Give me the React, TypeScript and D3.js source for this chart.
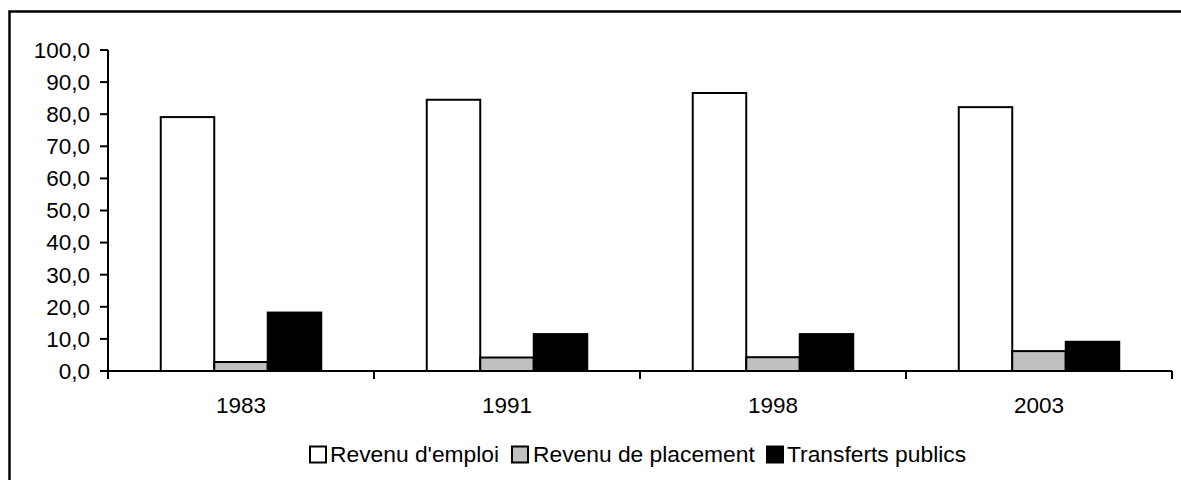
import React from "react";
import * as d3 from "d3";

const categories = ["1983", "1991", "1998", "2003"];
const seriesNames = ["Revenu d'emploi", "Revenu de placement", "Transferts publics"];
const revenuEmploi = [79.1, 84.5, 86.6, 82.2];
const revenuPlacement = [2.8, 4.2, 4.3, 6.2];
const transfertsPublics = [18.2, 11.5, 11.5, 9.1];
const yTicks = [0, 10, 20, 30, 40, 50, 60, 70, 80, 90, 100];

const seriesValues = [revenuEmploi, revenuPlacement, transfertsPublics];
const fills = ["#ffffff", "#c0c0c0", "#000000"];

const W = 1181;
const H = 480;
const FONT = "Liberation Sans, Arial, sans-serif";

export default function App() {
  const x = d3.scaleBand<string>().domain(categories).range([108, 1172]).padding(0);
  const inner = d3
    .scaleBand<string>()
    .domain(seriesNames)
    .range([0, x.bandwidth()])
    .paddingInner(0)
    .paddingOuter(0.986);
  const y = d3.scaleLinear().domain([0, 100]).range([371, 50]);
  const fmt = (v: number) => d3.format(".1f")(v).replace(".", ",");
  const [x0, x1] = x.range();

  const legendItems = [
    { box: 310, text: 330 },
    { box: 512, text: 533 },
    { box: 767, text: 787 },
  ];

  return (
    <svg
      width={W}
      height={H}
      style={{ position: "absolute", left: 0, top: 0, background: "#fff" }}
      fontFamily={FONT}
    >
      <rect x={0} y={0} width={W} height={H} fill="#fff" />
      <rect x={9.5} y={11.5} width={W + 20} height={H + 20} fill="none" stroke="#000" strokeWidth={2.5} />

      {/* bars */}
      {categories.map((c, ci) => (
        <g key={c} transform={`translate(${x(c)},0)`}>
          {seriesNames.map((s, si) => {
            const v = seriesValues[si][ci];
            return (
              <rect
                key={s}
                x={inner(s)}
                y={y(v)}
                width={inner.bandwidth()}
                height={y(0) - y(v)}
                fill={fills[si]}
                stroke="#000"
                strokeWidth={2}
              />
            );
          })}
        </g>
      ))}

      {/* y axis */}
      <line x1={x0} x2={x0} y1={y(100)} y2={y(0)} stroke="#000" strokeWidth={2} />
      {yTicks.map((t) => (
        <g key={t}>
          <line x1={x0 - 8} x2={x0} y1={y(t)} y2={y(t)} stroke="#000" strokeWidth={2} />
          <text
            x={x0 - 18}
            y={y(t)}
            dy="0.35em"
            textAnchor="end"
            fontSize={22.5}
            fill="#000"
          >
            {fmt(t)}
          </text>
        </g>
      ))}

      {/* x axis */}
      <line x1={x0} x2={x1} y1={y(0)} y2={y(0)} stroke="#000" strokeWidth={2} />
      {[...categories.map((c) => x(c) as number), x1].map((p, i) => (
        <line key={i} x1={p} x2={p} y1={y(0)} y2={y(0) + 8} stroke="#000" strokeWidth={2} />
      ))}
      {categories.map((c) => (
        <text
          key={c}
          x={(x(c) as number) + x.bandwidth() / 2}
          y={405}
          dy="0.35em"
          textAnchor="middle"
          fontSize={22.5}
          fill="#000"
        >
          {c}
        </text>
      ))}

      {/* legend */}
      {seriesNames.map((s, i) => (
        <g key={s}>
          <rect
            x={legendItems[i].box}
            y={446.5}
            width={16}
            height={16}
            fill={fills[i]}
            stroke="#000"
            strokeWidth={2}
          />
          <text x={legendItems[i].text} y={454} dy="0.35em" fontSize={22.8} fill="#000">
            {s}
          </text>
        </g>
      ))}
    </svg>
  );
}
